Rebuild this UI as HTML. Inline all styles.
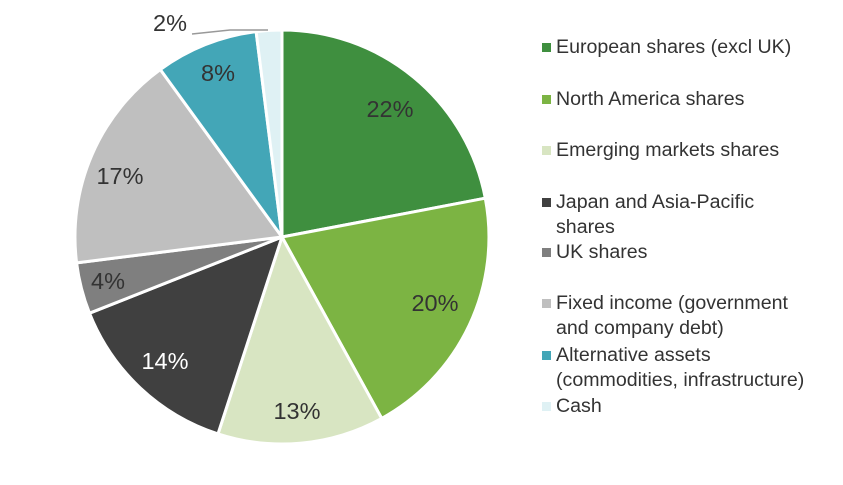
<!DOCTYPE html>
<html><head><style>
body{margin:0;background:#fff;width:843px;height:485px;overflow:hidden;font-family:"Liberation Sans",sans-serif}
.lg{position:absolute;left:556px;font-size:19.6px;color:#333;line-height:25px}
.sq{position:absolute;left:542px;width:9px;height:9px}
</style></head><body>
<svg width="843" height="485" style="position:absolute;left:0;top:0">
<g stroke="#fff" stroke-width="3" stroke-linejoin="round">
<path d="M282,237 L282,30 A207,207 0 0 1 485.3,198.2 Z" fill="#3f8f3f"/>
<path d="M282,237 L485.3,198.2 A207,207 0 0 1 381.7,418.4 Z" fill="#7cb443"/>
<path d="M282,237 L381.7,418.4 A207,207 0 0 1 218,433.9 Z" fill="#d8e5c2"/>
<path d="M282,237 L218,433.9 A207,207 0 0 1 89.5,313.2 Z" fill="#404040"/>
<path d="M282,237 L89.5,313.2 A207,207 0 0 1 76.6,262.9 Z" fill="#7f7f7f"/>
<path d="M282,237 L76.6,262.9 A207,207 0 0 1 160.3,69.5 Z" fill="#bfbfbf"/>
<path d="M282,237 L160.3,69.5 A207,207 0 0 1 256.1,31.6 Z" fill="#43a6b7"/>
<path d="M282,237 L256.1,31.6 A207,207 0 0 1 282,30 Z" fill="#dff1f4"/>
</g>
<polyline points="192,34 230,30 268,30" fill="none" stroke="#999" stroke-width="1.5"/>
<g font-family="Liberation Sans,sans-serif" font-size="23.5" fill="#333" text-anchor="middle">
<text x="390" y="117">22%</text>
<text x="435" y="311">20%</text>
<text x="297" y="419">13%</text>
<text x="165" y="369" fill="#fff">14%</text>
<text x="108" y="289">4%</text>
<text x="120" y="184">17%</text>
<text x="218" y="81">8%</text>
<text x="170" y="31">2%</text>
</g>
</svg>
<div class="sq" style="top:43px;background:#3f8f3f"></div><div class="lg" style="top:35px">European shares (excl UK)</div>
<div class="sq" style="top:95px;background:#7cb443"></div><div class="lg" style="top:87px">North America shares</div>
<div class="sq" style="top:146px;background:#d8e5c2"></div><div class="lg" style="top:138px">Emerging markets shares</div>
<div class="sq" style="top:198px;background:#404040"></div><div class="lg" style="top:190px">Japan and Asia-Pacific<br>shares</div>
<div class="sq" style="top:248px;background:#7f7f7f"></div><div class="lg" style="top:240px">UK shares</div>
<div class="sq" style="top:299px;background:#bfbfbf"></div><div class="lg" style="top:291px">Fixed income (government<br>and company debt)</div>
<div class="sq" style="top:351px;background:#43a6b7"></div><div class="lg" style="top:343px">Alternative assets<br>(commodities, infrastructure)</div>
<div class="sq" style="top:402px;background:#dff1f4"></div><div class="lg" style="top:394px">Cash</div>
</body></html>
